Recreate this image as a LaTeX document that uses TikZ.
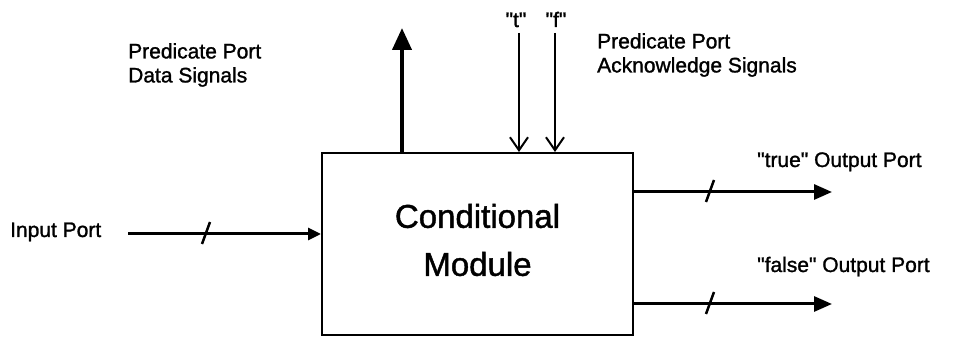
\documentclass[tikz,border=0pt]{standalone}
\usepackage{fontspec}
\setmainfont{Liberation Sans}
\newfontfamily\medfont[FakeBold=1.3]{Liberation Sans}
\newcommand{\qt}{\symbol{34}}
\usetikzlibrary{arrows.meta}
\begin{document}
\begin{tikzpicture}[x=1pt,y=-1pt,
  lbl/.style={inner sep=0pt,font=\medfont\fontsize{21}{24}\selectfont,align=left},
  bigtxt/.style={inner sep=0pt,font=\medfont\fontsize{33}{48}\selectfont,align=center},
  modbox/.style={draw,line width=2pt,minimum width=311pt,minimum height=182pt,inner sep=0pt},
  sig/.style={line width=3pt,-{Triangle[length=18pt,width=15pt]}},
  insig/.style={line width=3pt,-{Triangle[length=13pt,width=12pt]}},
  upsig/.style={line width=4pt,-{Triangle[length=22pt,width=19pt]}},
  ack/.style={line width=2pt,-{Straight Barb[length=13pt,width=18pt,line width=2pt]}},
  slashmark/.style={line width=2.5pt}]
\useasboundingbox (0,0) rectangle (958,352);
% module
\node[modbox] (mod) at (477.5,244) {};
\node[bigtxt] (modtxt) at (477.5,240) {Conditional\\Module};
% coordinates on the box border
\coordinate (inp) at (mod.west |- 0,234);
\coordinate (instart) at (128,234);
\coordinate (upbase) at (mod.north -| 402,0);
\coordinate (uptip) at (402,28);
\coordinate (tbase) at (mod.north -| 519,0);
\coordinate (ttop) at (519,33);
\coordinate (fbase) at (mod.north -| 555,0);
\coordinate (ftop) at (555,33);
\coordinate (trueout) at (mod.east |- 0,192);
\coordinate (trueend) at (832,192);
\coordinate (falseout) at (mod.east |- 0,304);
\coordinate (falseend) at (832,304);
\coordinate (sin) at (206,234);
\coordinate (strue) at (710,192);
\coordinate (sfalse) at (710,304);
% connectors
\draw[insig] (instart) -- (inp);
\draw[upsig] (upbase) -- (uptip);
\draw[ack] (ttop) -- (tbase);
\draw[ack] (ftop) -- (fbase);
\draw[sig] (trueout) -- (trueend);
\draw[sig] (falseout) -- (falseend);
% bus slashes
\draw[slashmark] (sin) +(-4,10) -- +(4,-12);
\draw[slashmark] (strue) +(-4,10) -- +(4,-12);
\draw[slashmark] (sfalse) +(-4,10) -- +(4,-12);
% labels
\node[lbl,anchor=north west] (pdata) at (128,43) {Predicate Port\\Data Signals};
\node[lbl,anchor=north west] (pack) at (597,33) {Predicate Port\\Acknowledge Signals};
\node[lbl,anchor=base] (tl) at (516,27) {\qt t\qt};
\node[lbl,anchor=base] (fl) at (556,27) {\qt f\qt};
\node[lbl,anchor=base west] (inl) at (10,237) {Input Port};
\node[lbl,anchor=base west] (truel) at (757,167) {\qt true\qt{} Output Port};
\node[lbl,anchor=base west] (falsel) at (757,272) {\qt false\qt{} Output Port};
\end{tikzpicture}
\end{document}
